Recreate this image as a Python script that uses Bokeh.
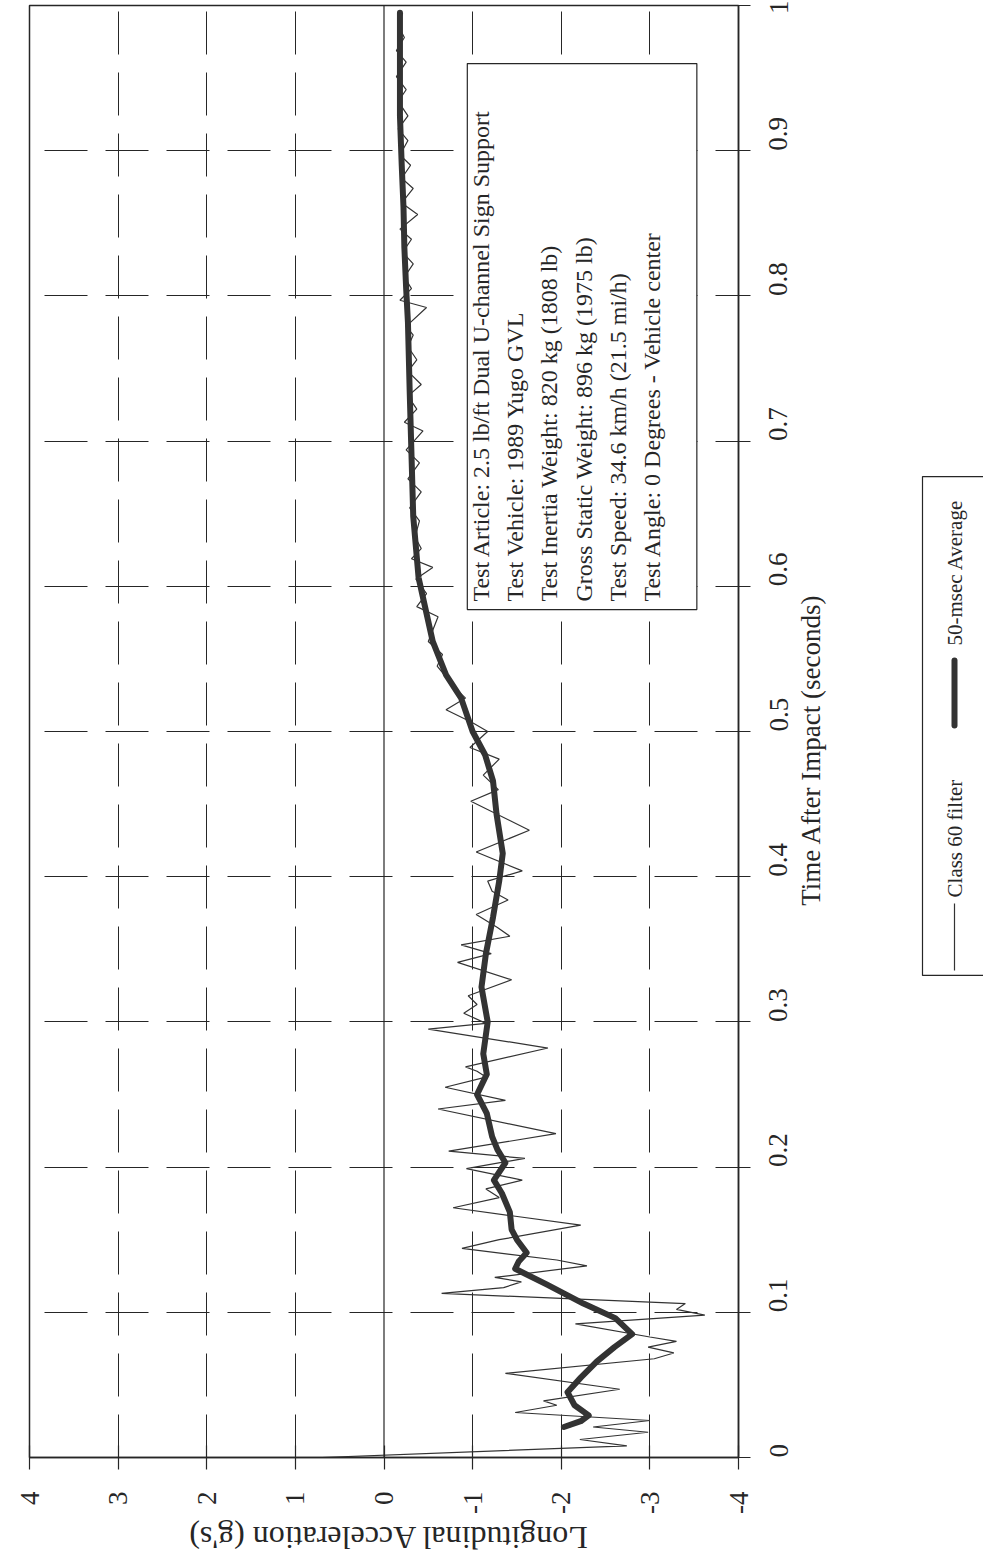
import math
from bokeh.plotting import figure
from bokeh.models import Range1d, FixedTicker, Span, BoxAnnotation, Label, LinearAxis, Div
from bokeh.layouts import row, column
from bokeh.core.properties import value
from bokeh.embed import file_html
from bokeh.resources import INLINE

# ---------------- data ----------------
class60_t = [0.000, 0.008, 0.0124, 0.0174, 0.021, 0.0255, 0.031, 0.036, 0.039, 0.047,
             0.058, 0.068, 0.072, 0.076, 0.080, 0.083, 0.092, 0.098, 0.102, 0.106,
             0.113, 0.117, 0.121, 0.124, 0.132, 0.136, 0.144, 0.150, 0.160, 0.172,
             0.179, 0.185, 0.191, 0.199, 0.206, 0.211, 0.223, 0.240, 0.246, 0.255,
             0.262, 0.266, 0.269, 0.282, 0.295, 0.299, 0.306, 0.312, 0.318, 0.329,
             0.341, 0.347, 0.353, 0.359, 0.365, 0.374, 0.384, 0.390, 0.397, 0.404,
             0.417, 0.432, 0.452, 0.460, 0.470, 0.481, 0.489, 0.500, 0.506, 0.515,
             0.523, 0.530, 0.545, 0.553, 0.562, 0.579, 0.586, 0.595, 0.605, 0.613,
             0.619, 0.626, 0.634, 0.645, 0.654, 0.665, 0.674, 0.685, 0.694, 0.707,
             0.713, 0.722, 0.731, 0.739, 0.748, 0.756, 0.765, 0.773, 0.779, 0.792,
             0.797, 0.805, 0.813, 0.822, 0.830, 0.839, 0.846, 0.856, 0.864, 0.874,
             0.881, 0.890, 0.897, 0.907, 0.915, 0.924, 0.934, 0.942, 0.951, 0.961,
             0.969, 0.978, 0.986, 0.995]
class60_g = [0.70, -2.74, -2.21, -2.98, -2.36, -3.00, -1.48, -1.95, -1.80, -2.66,
             -1.37, -3.05, -3.27, -2.98, -3.30, -3.00, -2.16, -3.62, -3.30, -3.40,
             -0.65, -1.35, -1.55, -1.25, -2.29, -1.95, -0.88, -1.30, -2.22, -0.78,
             -1.30, -1.15, -1.56, -0.93, -1.59, -0.73, -1.94, -0.61, -1.37, -0.69,
             -1.15, -1.05, -0.92, -1.85, -0.50, -1.15, -0.90, -1.05, -0.95, -1.44,
             -0.83, -1.21, -0.87, -1.42, -1.28, -1.04, -1.40, -1.22, -1.17, -1.56,
             -1.04, -1.64, -0.98, -1.29, -1.12, -1.30, -0.97, -1.17, -1.00, -0.70,
             -0.92, -0.80, -0.60, -0.66, -0.50, -0.61, -0.37, -0.48, -0.36, -0.55,
             -0.31, -0.42, -0.35, -0.40, -0.29, -0.42, -0.27, -0.40, -0.25, -0.44,
             -0.23, -0.37, -0.27, -0.42, -0.27, -0.37, -0.27, -0.33, -0.25, -0.48,
             -0.18, -0.31, -0.23, -0.33, -0.21, -0.31, -0.18, -0.38, -0.20, -0.33,
             -0.20, -0.30, -0.18, -0.27, -0.16, -0.27, -0.16, -0.25, -0.14, -0.25,
             -0.14, -0.23, -0.16, -0.21]

avg_t = [0.021, 0.025, 0.029, 0.036, 0.045, 0.055, 0.066, 0.076, 0.085, 0.096,
         0.106, 0.119, 0.130, 0.135, 0.141, 0.150, 0.157, 0.169, 0.182, 0.191,
         0.203, 0.212, 0.221, 0.237, 0.250, 0.264, 0.278, 0.300, 0.324, 0.347,
         0.372, 0.397, 0.416, 0.443, 0.466, 0.484, 0.500, 0.523, 0.539, 0.562,
         0.606, 0.648, 0.691, 0.734, 0.782, 0.805, 0.833, 0.861, 0.890, 0.924,
         0.960, 0.995]
avg_g = [-2.03, -2.22, -2.31, -2.15, -2.07, -2.22, -2.40, -2.60, -2.80, -2.61,
         -2.25, -1.84, -1.48, -1.52, -1.61, -1.50, -1.44, -1.42, -1.33, -1.24,
         -1.37, -1.28, -1.22, -1.16, -1.05, -1.16, -1.12, -1.17, -1.10, -1.15,
         -1.23, -1.30, -1.34, -1.27, -1.23, -1.14, -1.00, -0.87, -0.70, -0.55,
         -0.39, -0.33, -0.31, -0.29, -0.27, -0.25, -0.23, -0.22, -0.20, -0.18,
         -0.18, -0.18]

accel_ticks = [4, 3, 2, 1, 0, -1, -2, -3, -4]
accel_tick_labels = ["4", "3", "2", "1", "0", "-1", "-2", "-3", "-4"]
time_ticks = [0, 0.1, 0.2, 0.3, 0.4, 0.5, 0.6, 0.7, 0.8, 0.9, 1]
time_tick_labels = ["0", "0.1", "0.2", "0.3", "0.4", "0.5", "0.6", "0.7", "0.8", "0.9", "1"]

info_lines = [
    "Test Article:  2.5 lb/ft Dual U-channel Sign Support",
    "Test Vehicle:  1989 Yugo GVL",
    "Test Inertia Weight:  820 kg (1808 lb)",
    "Gross Static Weight:  896 kg (1975 lb)",
    "Test Speed:  34.6 km/h (21.5 mi/h)",
    "Test Angle:  0 Degrees - Vehicle center",
]
legend_labels = ["Class 60 filter", "50-msec Average"]
time_title = "Time After Impact (seconds)"
accel_title = "Longitudinal Acceleration (g's)"

# ---------------- styling ----------------
SERIF = "Liberation Serif"
INK = "#262626"
LINE = "#333333"
TOP_H = 1519          # height of the plot row; the acceleration title sits below it

p = figure(width=880, height=TOP_H,
           x_range=Range1d(4, -4), y_range=Range1d(0, 1),
           y_axis_location="right", x_axis_location="below",
           output_backend="svg", toolbar_location=None,
           min_border_left=29, min_border_right=142,
           min_border_top=5, min_border_bottom=TOP_H - 1457,
           background_fill_color="white", border_fill_color="white")
p.outline_line_color = INK
p.outline_line_width = 1.5

# main axes
xa = p.xaxis[0]
xa.ticker = FixedTicker(ticks=accel_ticks)
xa.major_label_overrides = {g: s for g, s in zip(accel_ticks, accel_tick_labels)}
ya = p.yaxis[0]
ya.ticker = FixedTicker(ticks=time_ticks)
ya.major_label_overrides = {t: s for t, s in zip(time_ticks, time_tick_labels)}
for ax in (xa, ya):
    ax.axis_line_color = INK
    ax.axis_line_width = 1.5
    ax.major_tick_line_color = INK
    ax.major_tick_line_width = 1.2
    ax.major_tick_in = 12
    ax.major_tick_out = 12
    ax.minor_tick_line_color = None
    ax.major_label_orientation = math.pi / 2
    ax.major_label_text_font = SERIF
    ax.major_label_text_font_size = "27px"
    ax.major_label_text_color = INK
xa.major_label_standoff = 22
ya.major_label_standoff = 28

# time-axis title: one labelled position on an outer, line-less right axis
tt = LinearAxis(ticker=FixedTicker(ticks=[0.38]), major_label_overrides={0.38: time_title})
tt.axis_line_color = None
tt.major_tick_line_color = None
tt.minor_tick_line_color = None
tt.major_tick_in = 0
tt.major_tick_out = 0
tt.major_label_standoff = 12
tt.major_label_orientation = math.pi / 2
tt.major_label_text_font = SERIF
tt.major_label_text_font_size = "27px"
tt.major_label_text_color = INK
p.add_layout(tt, "right")

# grid
p.xgrid.ticker = FixedTicker(ticks=[g for g in accel_ticks if g != 0])
p.ygrid.ticker = FixedTicker(ticks=time_ticks[1:-1])
for gr in (p.xgrid, p.ygrid):
    gr.grid_line_color = INK
    gr.grid_line_width = 1
    gr.grid_line_dash = "43 18"
p.ygrid.grid_line_dash_offset = 20
p.add_layout(Span(location=0, dimension="height", line_color=INK, line_width=1.2))

# data
p.line(class60_g, class60_t, line_color=LINE, line_width=1.2)
p.line(avg_g, avg_t, line_color=LINE, line_width=6, line_cap="round", line_join="round")

# info box
p.add_layout(BoxAnnotation(left=-0.94, right=-3.53, bottom=0.584, top=0.96,
                           fill_color="white", fill_alpha=1.0,
                           line_color=INK, line_width=1.2, line_alpha=1.0))
for i, line in enumerate(info_lines):
    p.add_layout(Label(x=-1.095 - i * 0.386, y=0.5895, text=line,
                       angle=math.pi / 2, text_align="left", text_baseline="middle",
                       text_font=SERIF, text_font_size="24px", text_color=INK))

# ---------------- legend panel (same vertical frame as the plot) ----------------
lg = figure(width=103, height=TOP_H, x_range=Range1d(0, 103), y_range=Range1d(0, 1),
            x_axis_location=None, y_axis_location=None,
            output_backend="svg", toolbar_location=None,
            min_border_left=0, min_border_right=0, min_border_top=5,
            min_border_bottom=TOP_H - 1457,
            background_fill_color="white", border_fill_color="white")
lg.outline_line_color = None
lg.xgrid.visible = False
lg.ygrid.visible = False
lg.quad(left=[42], right=[300], top=[0.6756], bottom=[0.3320],
        fill_color="white", line_color=INK, line_width=1.2)
lg.line([74, 74], [0.3354, 0.3815], line_color=LINE, line_width=1.2)
lg.line([74, 74], [0.5041, 0.5489], line_color=LINE, line_width=6, line_cap="round")
lg.text(x=[74, 74], y=[0.3857, 0.5592], text=legend_labels, angle=math.pi / 2,
        text_align="left", text_baseline="middle",
        text_font=value(SERIF), text_font_size="21px", text_color=INK)

# acceleration-axis title, printed upside down under the plot, centred on the frame
accel_div = Div(text=accel_title, width=767, height=28,
                styles={"transform": "rotate(180deg)", "font-family": SERIF,
                        "font-size": "32px", "line-height": "28px",
                        "text-align": "center", "color": INK,
                        "white-space": "nowrap"})

layout = column(row(p, lg), accel_div)
open("out.html", "w").write(file_html(layout, INLINE))
